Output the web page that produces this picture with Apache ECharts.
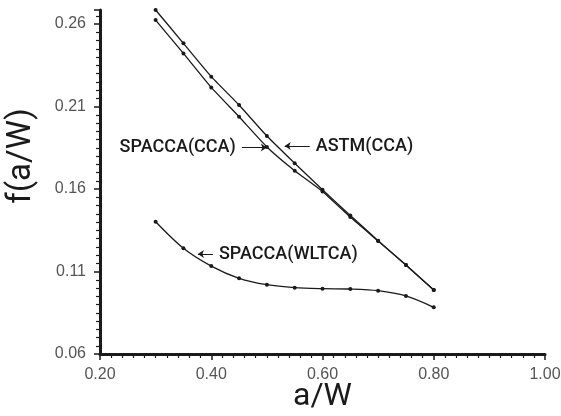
<!DOCTYPE html>
<html>
<head>
<meta charset="utf-8">
<script src="https://cdn.jsdelivr.net/npm/echarts@6/dist/echarts.min.js"></script>
<style>
  html, body { margin: 0; padding: 0; background: #fff; }
  #chart { width: 561px; height: 416px; }
</style>
</head>
<body>
<div id="chart"></div>
<script>
// a/W values where the curves were computed
var aw = [0.30, 0.35, 0.40, 0.45, 0.50, 0.55, 0.60, 0.65, 0.70, 0.75, 0.80]
var astmCCA = [0.2685, 0.2483, 0.2281, 0.2109, 0.1921, 0.1756, 0.1595, 0.1440, 0.1287, 0.1139, 0.0988]
var spaccaCCA = [0.2624, 0.2422, 0.2216, 0.2038, 0.1855, 0.1711, 0.1585, 0.1430, 0.1285, 0.1139, 0.0988]
var spaccaWLTCA = [0.1402, 0.1241, 0.1133, 0.1059, 0.1020, 0.1002, 0.0996, 0.0994, 0.0984, 0.0952, 0.0883]

// annotation leaders: [label, from (text side), to (arrow on curve)]
var notes = [
  ['SPACCA(CCA)', [0.455, 0.1852], [0.500, 0.1852]],
  ['ASTM(CCA)', [0.577, 0.1860], [0.532, 0.1860]],
  ['SPACCA(WLTCA)', [0.403, 0.1206], [0.376, 0.1206]]
]

function pairs(ys) {
  return aw.map(function (x, i) { return [x, ys[i]] })
}

var ink = '#1a1a1a'
var labelFont = { color: '#1a1a1a', fontFamily: 'Roboto', fontSize: 18, fontWeight: 500 }

function curve(name, ys, withNote, smooth) {
  var s = {
    name: name,
    type: 'line',
    smooth: smooth,
    symbol: 'circle',
    symbolSize: 4,
    lineStyle: { color: ink, width: 1.3 },
    itemStyle: { color: ink },
    data: pairs(ys)
  }
  if (withNote) {
    s.markLine = {
      silent: true,
      symbol: ['none', 'arrow'],
      symbolSize: 6,
      lineStyle: { color: ink, width: 1, type: 'solid' },
      label: Object.assign({ show: true, position: 'start', distance: 6, formatter: function (p) { return p.name } }, labelFont),
      data: [[{ name: withNote[0], coord: withNote[1] }, { coord: withNote[2] }]]
    }
  }
  return s
}

var chart = echarts.init(document.getElementById('chart'))
var option = {
  animation: false,
  backgroundColor: '#fff',
  grid: { left: 100, right: 16, top: 10, bottom: 62, containLabel: false, outerBoundsMode: 'none' },
  xAxis: {
    type: 'value',
    min: 0.2,
    max: 1.0,
    interval: 0.2,
    name: 'a/W',
    nameLocation: 'middle',
    nameGap: 27,
    nameMoveOverlap: false,
    nameTextStyle: { color: ink, fontFamily: 'Roboto', fontSize: 32 },
    axisLine: { lineStyle: { color: ink, width: 3 } },
    axisTick: { show: true, length: 6, lineStyle: { color: ink, width: 1.5 } },
    minorTick: { show: true, splitNumber: 10, length: 4, lineStyle: { color: ink, width: 1.2 } },
    splitLine: { show: false },
    axisLabel: {
      color: '#555', fontFamily: 'Liberation Sans', fontSize: 16, margin: 13,
      formatter: function (v) { return v.toFixed(2) }
    }
  },
  yAxis: {
    type: 'value',
    min: 0.06,
    max: 0.2685,
    interval: 0.05,
    axisLine: { show: true, lineStyle: { color: ink, width: 3 } },
    axisTick: { show: true, length: 6, lineStyle: { color: ink, width: 1.5 } },
    minorTick: { show: true, splitNumber: 10, length: 4, lineStyle: { color: ink, width: 1.2 } },
    splitLine: { show: false },
    axisLabel: {
      color: '#555', fontFamily: 'Liberation Sans', fontSize: 16, margin: 14,
      showMaxLabel: false,
      formatter: function (v) { return v.toFixed(2) }
    }
  },
  graphic: [{
    type: 'text',
    x: 22,
    y: 156,
    rotation: Math.PI / 2,
    style: {
      text: 'f(a/W)',
      fill: ink,
      font: '33px Roboto',
      textAlign: 'center',
      textVerticalAlign: 'middle',
      verticalAlign: 'middle'
    }
  }],
  series: [
    curve('ASTM(CCA)', astmCCA, notes[1], 0.15),
    curve('SPACCA(CCA)', spaccaCCA, notes[0], 0.15),
    curve('SPACCA(WLTCA)', spaccaWLTCA, notes[2], 0.3)
  ]
}
chart.setOption(option)
</script>
</body>
</html>
